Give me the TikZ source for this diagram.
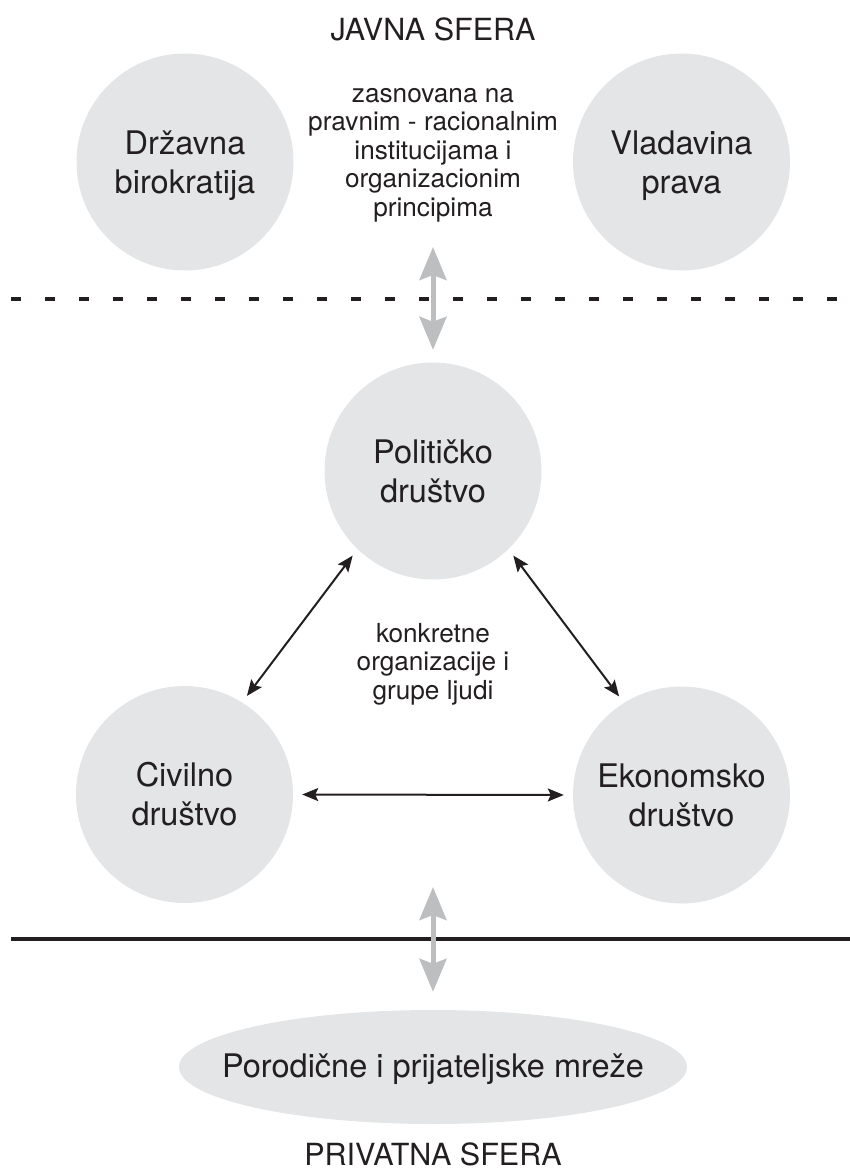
\documentclass[tikz,border=0pt]{standalone}
\usepackage{fontspec}
\setmainfont{TeX Gyre Heros}
\usetikzlibrary{arrows.meta,shapes.geometric}
\definecolor{bubblegray}{HTML}{E3E5E6}
\definecolor{arrowgray}{HTML}{BCBEC0}
\definecolor{ink}{HTML}{231F20}
\begin{document}
\begin{tikzpicture}[x=1pt,y=-1pt,
  bubble/.style={circle,fill=bubblegray,minimum size=217pt,inner sep=0pt,text=ink,
    font=\fontsize{32.5}{39}\selectfont,text height=23pt,text depth=39pt},
  famnode/.style={ellipse,fill=bubblegray,minimum width=508pt,minimum height=114pt,inner sep=0pt,
    text=ink,font=\fontsize{32.5}{39}\selectfont,text height=20pt,text depth=0pt},
  midtext/.style={anchor=base,inner sep=0pt,text=ink,font=\fontsize{26.2}{28.5}\selectfont},
  titletext/.style={anchor=base,inner sep=0pt,text=ink,font=\fontsize{30.5}{36}\selectfont},
  blackarrow/.style={draw=ink,line width=2pt,{Stealth[length=16pt,width=13pt,inset=3pt]}-{Stealth[length=16pt,width=13pt,inset=3pt]}},
  grayarrow/.style={draw=arrowgray,line width=5pt,{Stealth[length=33pt,width=27pt,inset=5pt]}-{Stealth[length=33pt,width=27pt,inset=5pt]}},
  dashline/.style={draw=ink,line width=4pt,dash pattern=on 10pt off 24pt},
  solidline/.style={draw=ink,line width=3.5pt}
]
\useasboundingbox (0,0) rectangle (850,1171);

% titles
\node[titletext] (javna) at (433,40) {JAVNA SFERA};
\node[titletext] (privatna) at (433,1165) {PRIVATNA SFERA};

% public sphere
\node[bubble] (drz) at (185,162) {\begin{tabular}[t]{@{}c@{}}Državna\\birokratija\end{tabular}};
\node[bubble] (vla) at (681.5,162) {\begin{tabular}[t]{@{}c@{}}Vladavina\\prava\end{tabular}};
\node[midtext] (pub) at (433,102) {\begin{tabular}[t]{@{}c@{}}zasnovana na\\pravnim - racionalnim\\institucijama i\\organizacionim\\principima\end{tabular}};

% separators
\coordinate (dl) at (11,299);
\coordinate (dr) at (850,299);
\draw[dashline] (dl) -- (dr);
\coordinate (sl) at (11,939);
\coordinate (sr) at (850,939);
\draw[solidline] (sl) -- (sr);

% middle triangle
\node[bubble] (pol) at (433,471) {\begin{tabular}[t]{@{}c@{}}Političko\\društvo\end{tabular}};
\node[bubble] (civ) at (184.5,794.5) {\begin{tabular}[t]{@{}c@{}}Civilno\\društvo\end{tabular}};
\node[bubble] (eko) at (681.5,795) {\begin{tabular}[t]{@{}c@{}}Ekonomsko\\društvo\end{tabular}};
\node[midtext] (org) at (433,642) {\begin{tabular}[t]{@{}c@{}}konkretne\\organizacije i\\grupe ljudi\end{tabular}};

\draw[blackarrow,shorten <=8pt,shorten >=8pt] (pol.226) -- (civ.58);
\draw[blackarrow,shorten <=8pt,shorten >=8pt] (pol.314) -- (eko.122);
\draw[blackarrow,shorten <=9pt,shorten >=9pt] (civ.east) -- (eko.west);

% private sphere
\node[famnode] (fam) at (433,1067) {\makebox[0pt]{Porodične i prijateljske mreže}};

% gray arrows
\coordinate (gtop) at (433,247);
\draw[grayarrow,shorten >=12.5pt] (gtop) -- (pol.north);
\coordinate (gbot) at (433,887);
\draw[grayarrow,shorten >=18pt] (gbot) -- (fam.north);
\end{tikzpicture}
\end{document}
